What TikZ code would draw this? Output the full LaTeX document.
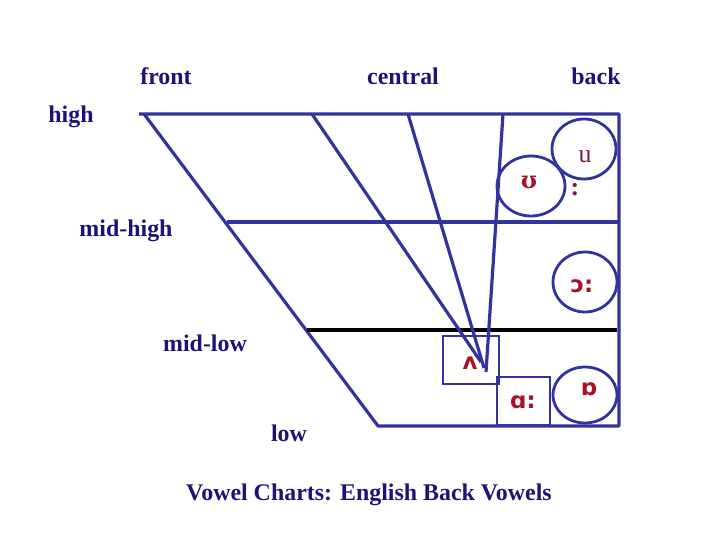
\documentclass[tikz,border=0pt]{standalone}
\usepackage{fontspec}
\setmainfont{Liberation Serif}
\newfontfamily\ipasans{DejaVu Sans}
\newfontfamily\ipaserif{DejaVu Serif}
\definecolor{lbl}{RGB}{28,18,120}
\definecolor{ln}{RGB}{51,51,160}
\definecolor{sym}{RGB}{170,16,40}
\definecolor{symu}{RGB}{128,24,64}
\begin{document}
\begin{tikzpicture}[x=1bp,y=-1bp,
  lab/.style={font=\fontsize{24}{28}\selectfont\bfseries, text=lbl, anchor=base, inner sep=0pt},
  ipa/.style={font=\fontsize{23}{28}\selectfont\ipasans\bfseries, text=sym, inner sep=0pt},
  chart/.style={draw=ln, line width=3.2bp, line join=round},
  ring/.style={draw=ln, line width=2.8bp}]
\useasboundingbox (0,0) rectangle (720,540);
% corner coordinates
\coordinate (tl) at (139,114);
\coordinate (tr) at (619,114);
\coordinate (br) at (619,426);
\coordinate (bl) at (378,426);
\coordinate (fd) at (144,114);
\coordinate (mhl) at (227,222);
\coordinate (mll) at (307,330);
\coordinate (mhr) at (619,222);
\coordinate (mlr) at (617,330);
\coordinate (c1) at (312,114);
\coordinate (c2) at (408,114);
\coordinate (c3) at (503,114);
\coordinate (e1) at (481,362);
\coordinate (e2) at (484,368);
\coordinate (e3) at (486,372);
% frame
\draw[chart] (tl) -- (tr) -- (br) -- (bl) -- (fd);
\draw[chart] (mhl) -- (mhr);
\draw[draw=black, line width=3.2bp] (mll) -- (mlr);
\draw[chart] (c1) -- (e1);
\draw[chart] (c2) -- (e2);
\draw[chart] (c3) -- (e3);
% labels
\node[lab] (front) at (166,85) {front};
\node[lab] (central) at (403,85) {central};
\node[lab] (back) at (596,85) {back};
\node[lab] (high) at (71,123) {high};
\node[lab] (midhigh) at (126,237) {mid-high};
\node[lab] (midlow) at (205,351) {mid-low};
\node[lab] (low) at (289,441) {low};
\node[lab] (title) at (369,500) {Vowel Charts: English Back Vowels};
% vowel containers
\draw[ring] (531,186) ellipse [x radius=34, y radius=30];
\draw[ring] (584,149) ellipse [x radius=32, y radius=30];
\draw[ring] (585,282) ellipse [x radius=32, y radius=30];
\draw[ring] (585,395) ellipse [x radius=32, y radius=28];
\draw[ring] (443,336) rectangle (499,384);
\draw[ring] (497,377) rectangle (550,425);
% vowel symbols
\node[ipa, font=\fontsize{24}{28}\selectfont\ipaserif\bfseries] (upsilon) at (529,182) {ʊ};
\node[inner sep=0pt, text=symu, font=\fontsize{26}{30}\selectfont] (u) at (585,157) {u};
\node[inner sep=0pt, text=symu, font=\fontsize{26}{30}\selectfont\bfseries] (ucolon) at (575,190) {:};
\node[ipa] (openo) at (582,286) {ɔ:};
\node[ipa] (wedge) at (470,363) {ʌ};
\node[ipa] (alpha) at (523,402) {ɑ:};
\node[ipa] (turneda) at (589,389) {ɒ};
\end{tikzpicture}
\end{document}
